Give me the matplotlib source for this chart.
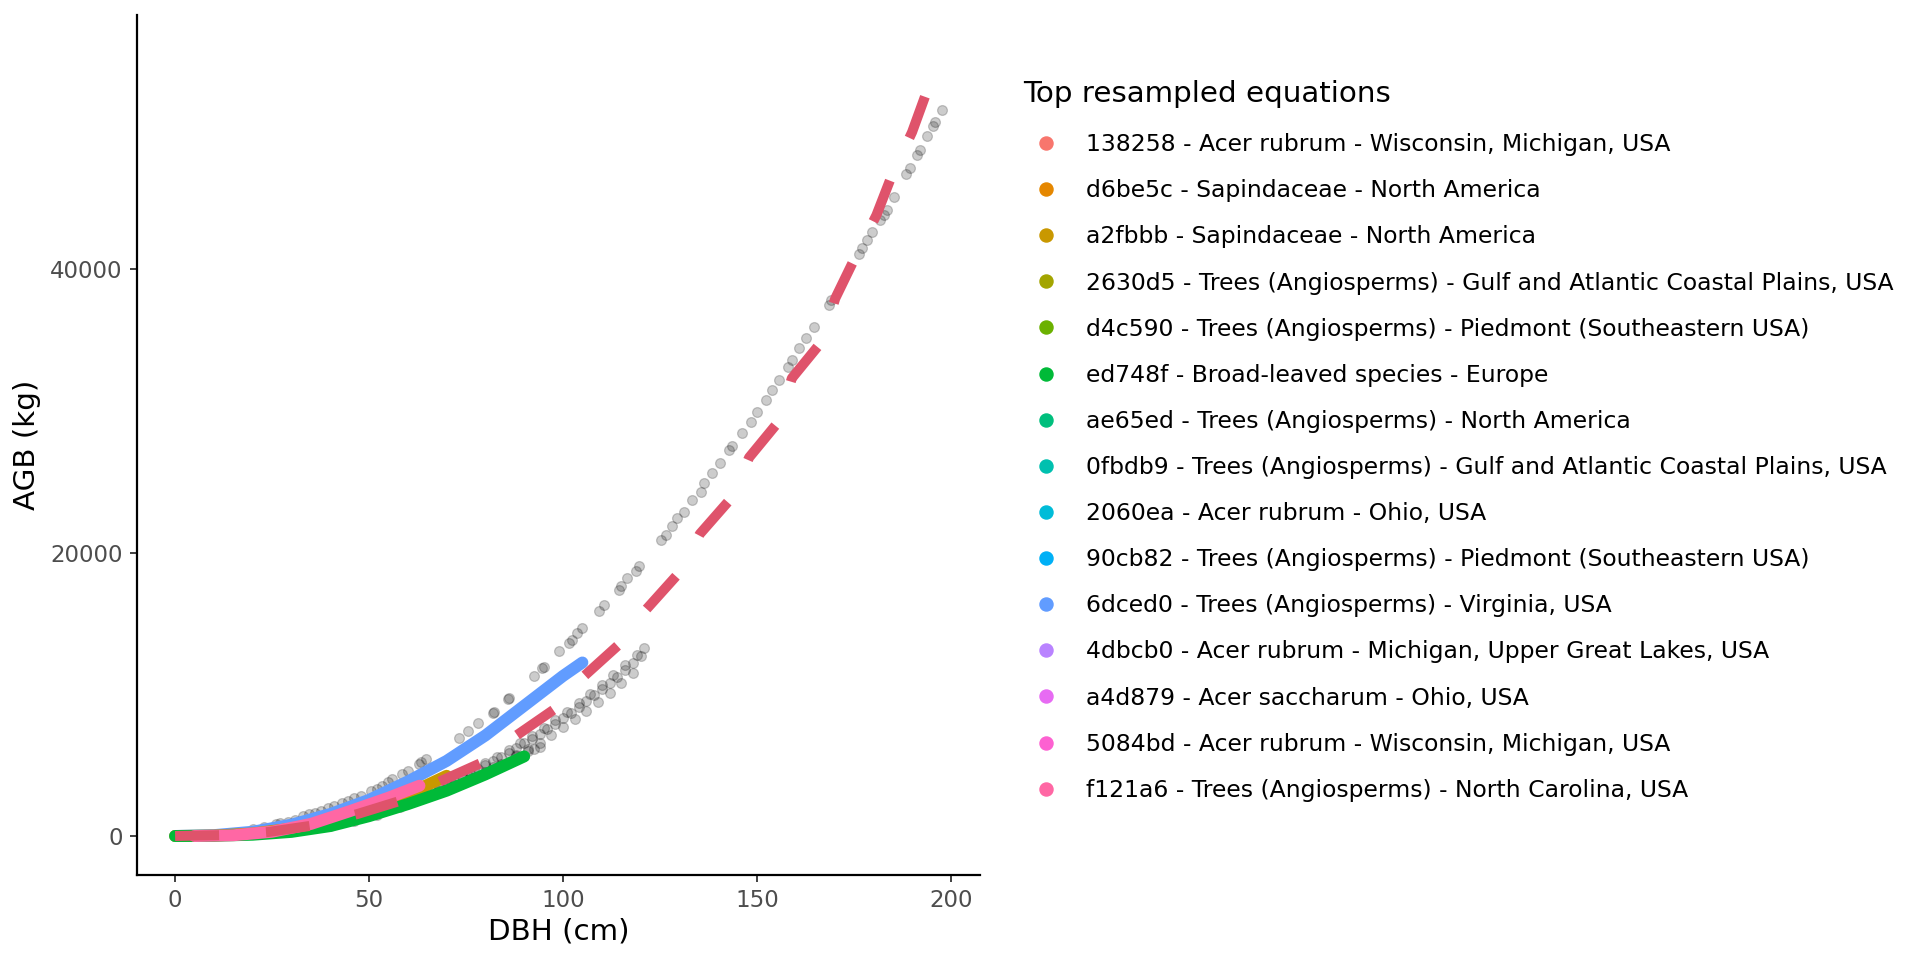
import matplotlib
matplotlib.use("Agg")
import matplotlib.pyplot as plt
from matplotlib.lines import Line2D

# resampled points from all equations (grey cloud)
upper_x = [20, 23, 26, 29, 31, 34.6, 37.6, 41.0, 44.5, 47.9, 50.5, 53.4, 56.0, 58.6, 62.9, 64.7,
           73.2, 75.4, 78.0, 81.9, 82.3, 85.9, 86.1, 92.6, 94.7, 95.2, 99.0, 101.6, 102.4, 103.7,
           105.0, 109.3, 110.6, 114.5, 114.9, 116.6, 118.8, 119.6, 125.2, 126.5, 128.2, 129.5,
           131.2, 133.3, 135.5, 136.4, 138.5, 140.6, 142.7, 143.6, 146.2, 148.4, 150.1, 152.3,
           154.0, 155.7, 157.9, 159.1, 160.9, 162.6, 164.8, 168.6, 169.0, 176.2, 177.1, 178.4,
           179.7, 181.8, 182.7, 183.5, 185.3, 188.5, 189.4, 191.3, 192.0, 193.9, 195.4, 196.0, 197.8]
upper_y = [500, 650, 820, 1010, 1150, 1530, 1760, 2115, 2470, 2820, 3170, 3525, 4000, 4350, 5055, 5410,
           6940, 7400, 7945, 8700, 8780, 9690, 9760, 11330, 11870, 11940, 13040, 13630, 13870, 14340,
           14690, 15860, 16335, 17390, 17625, 18220, 18680, 19035, 20870, 21270, 21860, 22450,
           22910, 23740, 24320, 24910, 25620, 26320, 27250, 27500, 28440, 29260, 29960, 30790,
           31490, 32200, 33140, 33610, 34430, 35140, 35960, 37480, 37840, 41080, 41480, 42070,
           42650, 43480, 43830, 44230, 45120, 46720, 47190, 48060, 48460, 49400, 50100, 50400, 51270]

upper2_x = [27, 33, 36, 39.5, 43, 46, 52, 55, 60, 63.5]
upper2_y = [900, 1380, 1650, 1950, 2300, 2650, 3350, 3800, 4600, 5200]

lower_x = [0, 2, 4, 6, 8, 10, 12, 14, 16, 18, 20, 23, 26, 29, 32, 35, 38, 41, 44, 47, 50, 53, 56,
           59, 62, 65, 68, 71, 74, 77, 80, 83, 86, 89, 92, 95, 98, 101, 104, 107, 110, 113, 116,
           119, 121]
lower_y = [0, 1, 5, 13, 26, 43, 65, 93, 126, 166, 211, 291, 386, 495, 620, 759, 915, 1086, 1295,
           1507, 1738, 1987, 2255, 2545, 2853, 3178, 3526, 3894, 4283, 4696, 5128, 5575, 6052,
           6551, 7065, 7609, 8170, 8763, 9370, 10010, 10673, 11346, 12059, 12784, 13293]

lower2_x = [60, 64, 68, 72, 76, 80, 84, 88, 91, 94, 97, 100, 103, 106, 109, 112, 115, 118]
lower2_y = [2400, 2750, 3150, 3600, 4050, 4550, 5100, 5700, 6150, 6600, 7150, 7700, 8250,
            8850, 9450, 10100, 10800, 11500]

lower3_x = [62, 64, 66, 68, 70, 72, 74, 76, 78, 80, 82, 84, 86, 88, 90, 92, 94, 96, 98, 100,
            102, 104, 106, 108, 110, 112, 114, 116, 118, 120]
lower3_y = [2760, 2960, 3170, 3410, 3650, 3900, 4150, 4420, 4700, 4980, 5280, 5590, 5870, 6200,
            6550, 6850, 7200, 7550, 7920, 8300, 8700, 9100, 9500, 9950, 10350, 10800, 11250,
            11700, 12200, 12700]

band_x = [40, 46, 52, 58, 64, 70, 76, 82, 88, 91, 92.5, 94]
band_y = [700, 1050, 1500, 2050, 2700, 3400, 4150, 4900, 5650, 6000, 6150, 6300]

# top resampled equations
blue_x = [0, 10, 20, 30, 40, 50, 60, 70, 80, 90, 100, 105]
blue_y = [0, 60, 300, 800, 1550, 2550, 3850, 5300, 7100, 9200, 11300, 12250]
orange_x = [0, 10, 20, 30, 40, 50, 60, 70]
orange_y = [0, 25, 180, 520, 1100, 1900, 2950, 4250]
green_x = [0, 10, 20, 30, 40, 50, 60, 70, 80, 90]
green_y = [0, 15, 90, 290, 700, 1400, 2250, 3200, 4350, 5620]
pink_x = [5, 15, 25, 35, 45, 55, 63]
pink_y = [0, 50, 300, 850, 1750, 2700, 3550]

# calibrated equation
fit_x = [0, 12, 24, 35, 47, 58, 68.5, 79, 88, 98, 105.4, 114.9, 121.4, 129.9, 135.3, 143.4,
         148, 155.6, 159, 166.7, 170.2, 175.2, 180.8, 184.8, 190.0, 193.9]
fit_y = [0, 60, 280, 720, 1550, 2480, 3880, 5170, 7100, 8990, 11280, 13630, 15980, 18570,
         21330, 23860, 26730, 29260, 32320, 34900, 37960, 40780, 43830, 46650, 49700, 52640]

labels = [
    "138258 - Acer rubrum - Wisconsin, Michigan, USA",
    "d6be5c - Sapindaceae - North America",
    "a2fbbb - Sapindaceae - North America",
    "2630d5 - Trees (Angiosperms) - Gulf and Atlantic Coastal Plains, USA",
    "d4c590 - Trees (Angiosperms) - Piedmont (Southeastern USA)",
    "ed748f - Broad-leaved species - Europe",
    "ae65ed - Trees (Angiosperms) - North America",
    "0fbdb9 - Trees (Angiosperms) - Gulf and Atlantic Coastal Plains, USA",
    "2060ea - Acer rubrum - Ohio, USA",
    "90cb82 - Trees (Angiosperms) - Piedmont (Southeastern USA)",
    "6dced0 - Trees (Angiosperms) - Virginia, USA",
    "4dbcb0 - Acer rubrum - Michigan, Upper Great Lakes, USA",
    "a4d879 - Acer saccharum - Ohio, USA",
    "5084bd - Acer rubrum - Wisconsin, Michigan, USA",
    "f121a6 - Trees (Angiosperms) - North Carolina, USA",
]
colors = ["#F8766D", "#E58700", "#C99800", "#A3A500", "#6BB100", "#00BA38", "#00BF7D", "#00C0AF",
          "#00BCD8", "#00B0F6", "#619CFF", "#B983FF", "#E76BF3", "#FD61D1", "#FF67A4"]

fig = plt.figure(figsize=(19.2, 9.6), dpi=100)
ax = fig.add_axes([0.0712, 0.0885, 0.4392, 0.8955])

grey = [(upper_x, upper_y), (upper2_x, upper2_y), (lower_x, lower_y), (lower2_x, lower2_y),
        (lower3_x, lower3_y), (band_x, band_y)]
for xs, ys in grey:
    ax.scatter(xs, ys, s=50, facecolor="black", edgecolor="black", linewidths=0.9, alpha=0.2, zorder=2)

lw = 8.6
ax.plot(blue_x, blue_y, color=colors[10], lw=lw, solid_capstyle="round", zorder=3)
ax.plot(orange_x, orange_y, color=colors[2], lw=lw, solid_capstyle="round", zorder=3)
ax.plot(green_x, green_y, color=colors[5], lw=lw, solid_capstyle="round", zorder=3)
ax.plot(pink_x, pink_y, color=colors[14], lw=lw, solid_capstyle="round", zorder=3)
ax.plot(fit_x, fit_y, color="#DF536B", lw=7.2, dashes=(4.4, 4.7), dash_capstyle="butt", zorder=4)

ax.set_xlim(-9.9, 207.5)
ax.set_ylim(-2757, 57940)
ax.set_xticks([0, 50, 100, 150, 200])
ax.set_yticks([0, 20000, 40000])
for s in ["top", "right"]:
    ax.spines[s].set_visible(False)
for s in ["left", "bottom"]:
    ax.spines[s].set_linewidth(1.6)
ax.tick_params(length=5, width=1.3, color="#333333", labelcolor="#4D4D4D", labelsize=16.5, pad=5)
ax.set_xlabel("DBH (cm)", fontsize=21.2, labelpad=4)
ax.set_ylabel("AGB (kg)", fontsize=21.2, labelpad=7)

handles = [Line2D([], [], marker="o", linestyle="", color=c, markersize=9.4) for c in colors]
leg = fig.legend(handles, labels, loc="upper left", bbox_to_anchor=(0.5327, 0.9165), frameon=False,
                 title="Top resampled equations", title_fontsize=21.2, fontsize=16.9,
                 alignment="left", handlelength=2.01, handletextpad=0.686, labelspacing=0.985,
                 borderpad=0, borderaxespad=0)
leg._legend_box.sep = 18

fig.savefig("out.png", dpi=100)
